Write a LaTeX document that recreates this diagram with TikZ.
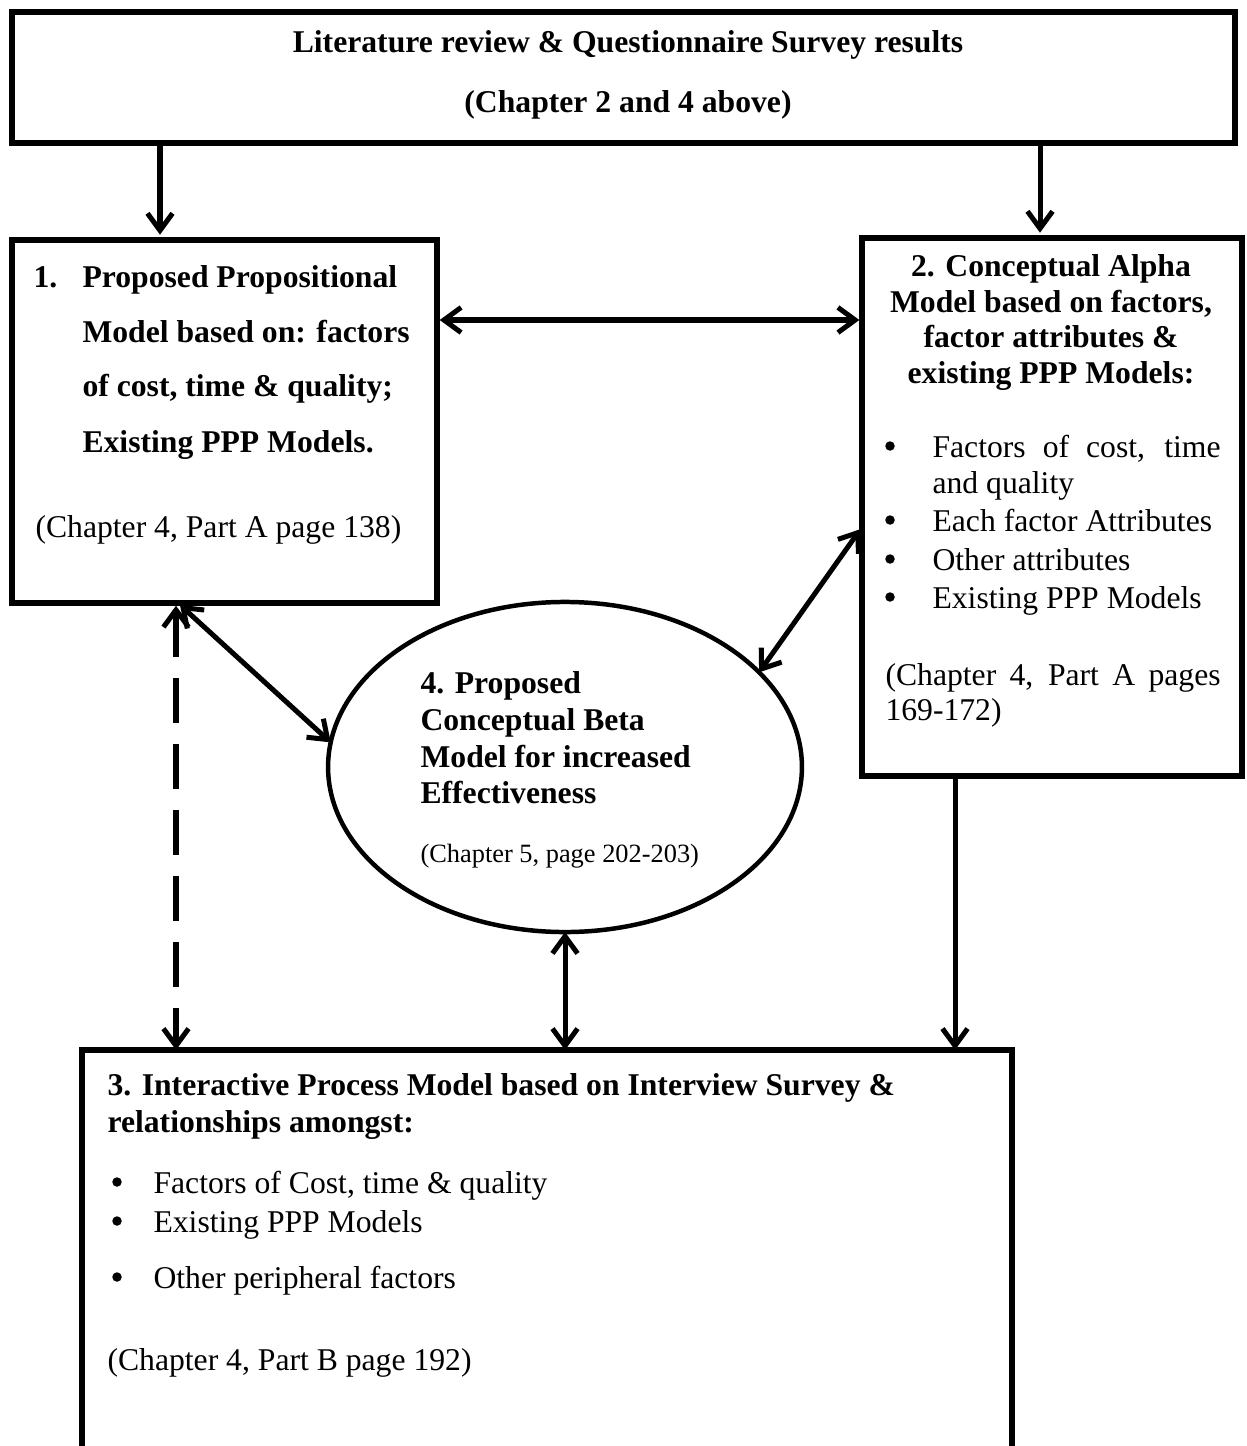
\documentclass[tikz,border=0pt]{standalone}
\usepackage{fontspec}
\setmainfont{Liberation Serif}
\usepackage{tikz}
\usetikzlibrary{arrows.meta,shapes.geometric}

\tikzset{
  modelbox/.style={draw, rectangle, line width=2pt, inner sep=0pt, outer sep=0pt, anchor=north west},
  plaintxt/.style={anchor=base west, inner sep=0pt, font=\fontsize{12}{14}\selectfont},
  boldtxt/.style={anchor=base west, inner sep=0pt, font=\fontsize{12}{14}\selectfont\bfseries},
  smalltxt/.style={anchor=base west, inner sep=0pt, font=\fontsize{10}{12}\selectfont},
  dot/.style={circle, fill, inner sep=0pt, minimum size=3.6pt},
  barb/.tip={Straight Barb[length=6.5pt,width=9.5pt]},
  twoway/.style={line width=1.9pt, barb-barb},
  oneway/.style={line width=1.9pt, -barb},
}

\begin{document}
\begin{tikzpicture}[x=0.379pt,y=-0.379pt]
        \useasboundingbox (0,0) rectangle (1246,1446);
        \clip (0,0) rectangle (1246,1446);
        % boxes
        \node[modelbox, minimum width=463.5pt, minimum height=49.6pt] (lit) at (12,12) {};
        \node[modelbox, minimum width=161.1pt, minimum height=137.6pt] (prop) at (12,240) {};
        \node[modelbox, minimum width=144pt, minimum height=203.9pt] (alpha) at (862,238) {};
        \node[modelbox, minimum width=352.5pt, minimum height=155.4pt] (inter) at (82,1050) {};
        \node[draw, ellipse, line width=1.7pt, inner sep=0pt, outer sep=0pt,
              minimum width=179.6pt, minimum height=125.1pt] (beta) at (565,767) {};

        % top box
        \node[boldtxt, anchor=base] (lit1) at (628,53) {Literature review \& Questionnaire Survey results};
        \node[boldtxt, anchor=base] (lit2) at (628,113) {(Chapter 2 and 4 above)};

        % box 1
        \node[boldtxt] (propnum) at (33,288) {1.};
        \foreach \t/\y [count=\i] in {Proposed Propositional/288, Model based on: factors/343,
                {of cost, time \& quality;}/397, Existing PPP Models./452}
            \node[boldtxt] (prop\i) at (82,\y) {\t};
        \node[plaintxt] (propref) at (35,537) {(Chapter 4, Part A page 138)};

        % box 2
        \foreach \t/\y [count=\i] in {2. Conceptual Alpha/277, {Model based on factors,}/313,
                factor attributes \&/348, existing PPP Models:/384}
            \node[boldtxt, anchor=base] (alphat\i) at (1051,\y) {\t};
        \foreach \y [count=\i] in {457,531,570,608}
            \node[dot] (alphab\i) at (890,\y-11) {};
        \node[plaintxt] (alpha1) at (932,457) {\makebox[109.2pt][s]{Factors of cost, time}};
        \node[plaintxt] (alpha2) at (932,493) {and quality};
        \node[plaintxt] (alpha3) at (932,531) {Each factor Attributes};
        \node[plaintxt] (alpha4) at (932,570) {Other attributes};
        \node[plaintxt] (alpha5) at (932,608) {Existing PPP Models};
        \node[plaintxt] (alpharef1) at (885,685) {\makebox[127pt][s]{(Chapter 4, Part A pages}};
        \node[plaintxt] (alpharef2) at (885,720) {169-172)};

        % ellipse
        \foreach \t/\y [count=\i] in {4. Proposed/693, Conceptual Beta/730,
                Model for increased/767, Effectiveness/803}
            \node[boldtxt] (betat\i) at (420,\y) {\t};
        \node[smalltxt] (betaref) at (420,862) {(Chapter 5, page 202-203)};

        % box 3
        \node[boldtxt] (inter1) at (107,1095) {3. Interactive Process Model based on Interview Survey \&};
        \node[boldtxt] (inter2) at (107,1132) {relationships amongst:};
        \foreach \t/\y [count=\i] in {{Factors of Cost, time \& quality}/1193,
                Existing PPP Models/1232, Other peripheral factors/1288} {
            \node[dot] (interb\i) at (117,\y-11) {};
            \node[plaintxt] (intert\i) at (153,\y) {\t};
        }
        \node[plaintxt] (interref) at (107,1370) {(Chapter 4, Part B page 192)};

        % connectors
        \coordinate (xl) at (160,0);
        \coordinate (xr) at (1040,0);
        \coordinate (xd) at (176,0);
        \coordinate (xs) at (178,0);
        \coordinate (xa) at (955,0);
        \coordinate (yh) at (0,320);
        \coordinate (yb) at (0,527);
        \draw[oneway, shorten >=2pt] (lit.south -| xl) -- (prop.north -| xl);
        \draw[oneway, shorten >=2pt] (lit.south -| xr) -- (alpha.north -| xr);
        \draw[twoway, shorten <=1pt, shorten >=1pt] (prop.east |- yh) -- (alpha.west |- yh);
        \draw[twoway, shorten <=1pt] (prop.south -| xs) -- (beta.174);
        \draw[twoway, shorten <=1pt] (alpha.west |- yb) -- (beta.26);
        \draw[twoway, dash pattern=on 17pt off 8pt, shorten <=1pt] (prop.south -| xd) -- (inter.north -| xd);
        \draw[twoway] (beta.south) -- (inter.north -| beta.south);
        \draw[oneway] (alpha.south -| xa) -- (inter.north -| xa);
\end{tikzpicture}
\end{document}
